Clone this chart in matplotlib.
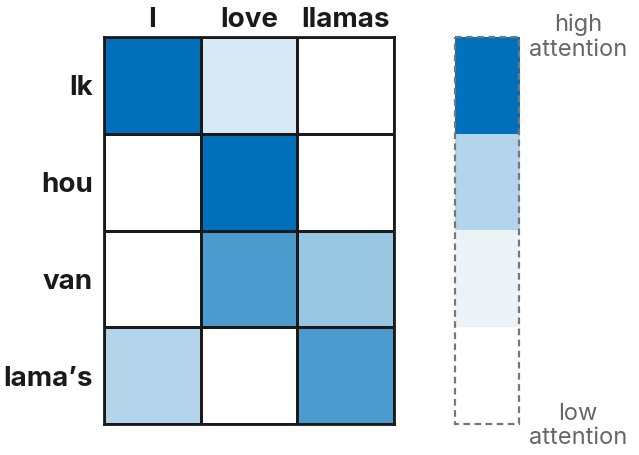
import matplotlib as mpl
mpl.use('Agg')
import matplotlib.pyplot as plt
from matplotlib.colors import LinearSegmentedColormap
from matplotlib.patches import Rectangle
import numpy as np

plt.rcParams['font.family'] = ['Inter', 'DejaVu Sans']

# attention weights (rows: Dutch tokens, cols: English tokens)
row_labels = ['lk', 'hou', 'van', 'lama’s']
col_labels = ['I', 'love', 'llamas']
attention = np.array([
    [1.00, 0.16, 0.00],
    [0.00, 1.00, 0.00],
    [0.00, 0.70, 0.40],
    [0.30, 0.00, 0.70],
])
legend_levels = [1.00, 0.30, 0.08, 0.00]

cmap = LinearSegmentedColormap.from_list('att', ['#ffffff', '#0070ba'])

fig = plt.figure(figsize=(6.39, 4.55), dpi=100)

# heatmap
ax = fig.add_axes([104/639, 31/455, 290/639, 387/455])
ax.pcolormesh(attention, cmap=cmap, vmin=0, vmax=1,
              edgecolors='#1a1a1a', linewidth=2)
ax.set_xlim(0, 3)
ax.set_ylim(4, 0)
for s in ax.spines.values():
    s.set_linewidth(2)
    s.set_color('#1a1a1a')
ax.xaxis.tick_top()
ax.set_xticks(np.arange(3) + 0.5)
ax.set_xticklabels(col_labels, fontsize=20, fontweight='bold', color='#1a1a1a')
ax.set_yticks(np.arange(4) + 0.5)
ax.set_yticklabels(row_labels, fontsize=20, fontweight='bold', color='#1a1a1a')
ax.tick_params(axis='x', length=0, pad=3)
ax.tick_params(axis='y', length=0, pad=8)

# legend bar
cax = fig.add_axes([455/639, 31/455, 64/639, 387/455])
cax.imshow(np.array(legend_levels)[:, None], cmap=cmap, vmin=0, vmax=1,
           aspect='auto', extent=(0, 1, 4, 0))
cax.set_xlim(0, 1)
cax.set_ylim(4, 0)
cax.set_xticks([])
cax.set_yticks([])
for s in cax.spines.values():
    s.set_visible(False)
cax.add_patch(Rectangle((0, 0), 1, 4, fill=False, edgecolor='#777777',
                        linestyle=(0, (3, 2)), linewidth=1.6, clip_on=False))

fig.text(578/639, 1 - 37/455, 'high\nattention', ha='center', va='center',
         fontsize=17, color='#666666', linespacing=1.15)
fig.text(578/639, 1 - 426/455, 'low\nattention', ha='center', va='center',
         fontsize=17, color='#666666', linespacing=1.15)

fig.savefig('out.png', dpi=100)
